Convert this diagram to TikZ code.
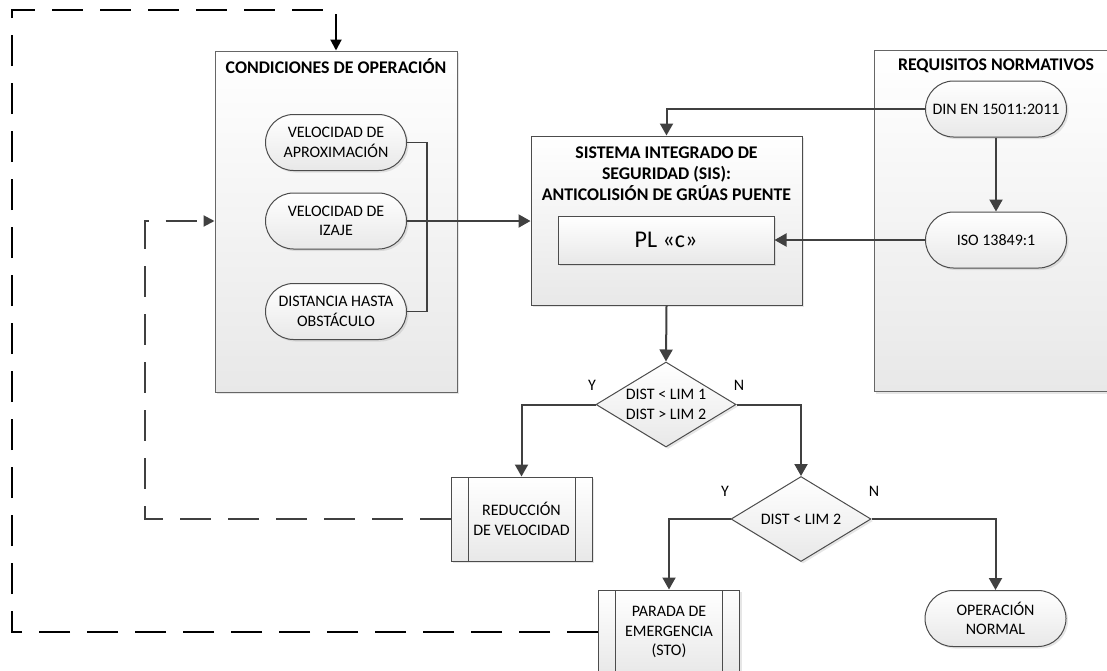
\documentclass[tikz,border=0pt]{standalone}
\usepackage{fontspec}
\setmainfont{Carlito}
\usetikzlibrary{arrows.meta,shapes.misc,shapes.geometric,shadows}

\begin{document}
\begin{tikzpicture}[x=1pt, y=-1pt,
    every node/.style={font=\fontsize{16}{19.5}\selectfont, align=center, text=black},
    boxshade/.style={draw=black!70, line width=1pt, top color=white, bottom color=black!9,
        drop shadow={shadow xshift=2pt, shadow yshift=-2pt, opacity=0.2}},
    container/.style={boxshade, draw=black!60, minimum width=242pt, minimum height=341pt, inner sep=0pt},
    terminal/.style={boxshade, rounded rectangle, minimum width=141pt, minimum height=56pt, inner sep=0pt},
    process/.style={boxshade, rectangle, minimum width=141pt, minimum height=84pt, inner sep=0pt,
        path picture={
            \draw[black!70, line width=1pt] ([xshift=17pt]path picture bounding box.north west) -- ([xshift=17pt]path picture bounding box.south west);
            \draw[black!70, line width=1pt] ([xshift=-17pt]path picture bounding box.north east) -- ([xshift=-17pt]path picture bounding box.south east);}},
    decision/.style={boxshade, diamond, aspect=1.65, minimum width=140pt, minimum height=85pt, inner sep=0pt},
    title/.style={font=\fontsize{17.8}{21}\selectfont\bfseries},
    flow/.style={draw=black!75, line width=2pt, -{Triangle[length=12pt, width=13pt]}},
    feedback/.style={line width=2pt, dash pattern=on 31pt off 17pt, -{Triangle[length=11pt, width=11pt]}}
]
    \useasboundingbox (0,0) rectangle (1107,670);
    \clip (0,0) rectangle (1107,670);

    \node[container] (cond) at (336,221.5) {};
    \node[container] (req) at (995,221) {};
    \node[title] (condtitle) at (336,66) {CONDICIONES DE OPERACIÓN};
    \node[title] (reqtitle) at (996,66) {REQUISITOS NORMATIVOS};

    \node[terminal] (apr) at (336,142.5) {VELOCIDAD DE\\APROXIMACIÓN};
    \node[terminal] (iza) at (336,221) {VELOCIDAD DE\\IZAJE};
    \node[terminal] (obs) at (336,311.5) {DISTANCIA HASTA\\OBSTÁCULO};

    \node[boxshade, minimum width=271pt, minimum height=169pt] (sis) at (666.5,220.5) {};
    \node[title] (sistitle) at (666.5,174) {SISTEMA INTEGRADO DE\\SEGURIDAD (SIS):\\ANTICOLISIÓN DE GRÚAS PUENTE};
    \node[boxshade, minimum width=216pt, minimum height=48pt, font=\fontsize{24}{28}\selectfont] (pl) at (666,240) {PL «c»};

    \node[terminal] (din) at (996,109) {DIN EN 15011:2011};
    \node[terminal] (iso) at (996,240) {ISO 13849:1};

    \node[decision] (lim1) at (666,404.5) {DIST < LIM 1\\DIST > LIM 2};
    \node[decision] (lim2) at (801,519) {DIST < LIM 2};
    \node[process] (red) at (521.5,519) {REDUCCIÓN\\DE VELOCIDAD};
    \node[process] (sto) at (669,632) {PARADA DE\\EMERGENCIA\\(STO)};
    \node[terminal] (opn) at (995.5,618.5) {OPERACIÓN\\NORMAL};

    \node (y1) at (592,385) {Y};
    \node (n1) at (739,385) {N};
    \node (y2) at (725,491) {Y};
    \node (n2) at (874,491) {N};

    \coordinate (bus) at (427,221);
    \coordinate (inner) at (145,221);
    \coordinate (outer) at (12,10);

    \draw[draw=black!75, line width=1.5pt] (apr.east) -| (bus) |- (obs.east);
    \draw[flow] (iza.east) -- (iza.east -| sis.west);
    \draw[flow] (din.west) -| (sis.north);
    \draw[flow] (din.south) -- (iso.north);
    \draw[flow] (iso.west) -- (pl.east);
    \draw[flow] (sis.south) -- (lim1.north);
    \draw[flow] (lim1.west) -| (red.north);
    \draw[flow] (lim1.east) -| (lim2.north);
    \draw[flow] (lim2.west) -| (sto.north);
    \draw[flow] (lim2.east) -| (opn.north);
    \draw[feedback, black!75] (red.west) -| (inner) -- (inner -| cond.west);
    \draw[feedback, black] (sto.west) -| (outer) -| (cond.north);
\end{tikzpicture}
\end{document}
